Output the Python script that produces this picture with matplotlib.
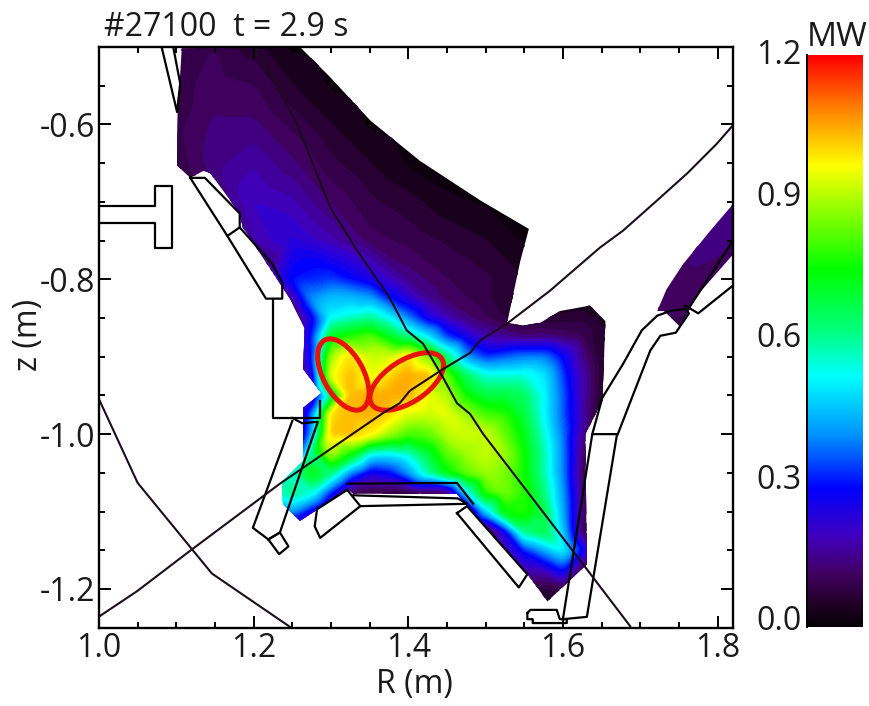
import numpy as np
import matplotlib
matplotlib.use('Agg')
import matplotlib.pyplot as plt
import matplotlib.tri as mtri
from matplotlib.colors import LinearSegmentedColormap
from matplotlib.patches import Ellipse, PathPatch
from matplotlib.path import Path
from matplotlib.ticker import MultipleLocator

plt.rcParams['font.family'] = ['Open Sans', 'DejaVu Sans']
plt.rcParams['text.color'] = '#1a1a1a'
plt.rcParams['xtick.labelcolor'] = '#1a1a1a'
plt.rcParams['ytick.labelcolor'] = '#1a1a1a'

# radiated power map, rows are z, columns are R
r_grid = [1.10, 1.15, 1.20, 1.25, 1.30, 1.35, 1.40, 1.45, 1.50, 1.55, 1.60, 1.65, 1.70, 1.75, 1.80, 1.85]
z_grid = [-0.50, -0.55, -0.60, -0.65, -0.70, -0.75, -0.80, -0.85, -0.90, -0.95, -1.00, -1.05, -1.10, -1.15, -1.20, -1.25]
power = [
    [.08, .10, .06, .02, .01, 0, 0, 0, 0, 0, 0, 0, 0, 0, 0, 0],
    [.09, .11, .10, .05, .02, .01, 0, 0, 0, 0, 0, 0, 0, 0, 0, 0],
    [.09, .13, .13, .09, .05, .02, .01, 0, 0, 0, 0, 0, 0, 0, 0, 0],
    [.08, .14, .17, .13, .08, .05, .02, .01, 0, 0, 0, 0, 0, 0, 0, 0],
    [.05, .11, .20, .18, .12, .08, .06, .03, .02, 0, 0, 0, 0, .10, .14, .10],
    [.02, .06, .17, .23, .18, .11, .09, .07, .05, .02, 0, 0, .06, .11, .14, .10],
    [0, .02, .06, .30, .33, .25, .14, .10, .08, .05, .03, .02, .09, .12, .10, .08],
    [0, 0, .02, .20, .50, .50, .37, .20, .10, .05, .07, .05, .09, .10, .08, .05],
    [0, 0, 0, .08, .88, .85, .90, .62, .33, .33, .33, .12, .02, .03, 0, 0],
    [0, 0, 0, .05, .98, 1.05, 1.06, .85, .68, .60, .42, .05, 0, 0, 0, 0],
    [0, 0, 0, .15, 1.00, .97, .88, .90, .88, .68, .32, .05, 0, 0, 0, 0],
    [0, 0, .50, .50, .65, .30, .45, .72, .82, .78, .48, .05, 0, 0, 0, 0],
    [0, 0, .30, .20, .10, .05, .05, .10, .40, .75, .58, .05, 0, 0, 0, 0],
    [0, 0, 0, 0, 0, 0, 0, 0, .05, .30, .52, .05, 0, 0, 0, 0],
    [0, 0, 0, 0, 0, 0, 0, 0, 0, .05, .08, .02, 0, 0, 0, 0],
    [0, 0, 0, 0, 0, 0, 0, 0, 0, 0, 0, 0, 0, 0, 0, 0],
]

# finer table for the hot region
r_fine = [1.25, 1.275, 1.30, 1.325, 1.35, 1.375, 1.40, 1.425, 1.45, 1.475, 1.50, 1.525, 1.55, 1.575, 1.60, 1.625, 1.65]
z_fine = [-0.825, -0.85, -0.875, -0.90, -0.925, -0.95, -0.975, -1.00, -1.025, -1.05, -1.075, -1.10, -1.125]
power_fine = [
    [.15, .40, .45, .45, .42, .30, .22, .15, .11, .10, .08, .06, .03, .02, .01, .01, .01],
    [.05, .25, .52, .56, .60, .52, .38, .25, .18, .13, .10, .07, .04, .05, .06, .07, .04],
    [.05, .30, .72, .78, .82, .72, .62, .50, .33, .25, .18, .15, .13, .14, .12, .10, .05],
    [.05, .28, .88, 1.00, .92, .93, 1.00, .85, .62, .40, .32, .35, .38, .38, .28, .14, .05],
    [.05, .20, .95, 1.03, .95, 1.00, 1.05, 1.04, .82, .65, .55, .55, .55, .50, .33, .17, .05],
    [.05, .15, .60, 1.03, 1.05, 1.05, 1.04, .95, .90, .75, .68, .68, .65, .52, .35, .17, .05],
    [.05, .35, 1.00, 1.03, 1.04, 1.00, .93, .92, .95, .88, .80, .78, .68, .52, .35, .17, .03],
    [.05, .40, 1.02, 1.03, .98, .88, .80, .82, .90, .93, .92, .83, .72, .55, .37, .15, 0],
    [.15, .60, .90, .75, .52, .50, .55, .68, .82, .88, .92, .88, .75, .58, .38, .12, 0],
    [.55, .75, .62, .38, .25, .28, .40, .58, .73, .83, .88, .85, .75, .58, .38, .10, 0],
    [.62, .55, .30, .10, .08, .08, .07, .08, .10, .50, .78, .85, .78, .62, .40, .12, 0],
    [.40, .25, .10, .05, .03, .02, .02, .01, 0, .05, .45, .75, .78, .68, .42, .12, 0],
    [.10, .05, 0, 0, 0, 0, 0, 0, 0, 0, .03, .25, .62, .68, .45, .10, 0],
]

# outline of the region that has data
main_r = [1.107, 1.260, 1.299, 1.351, 1.415, 1.493, 1.556, 1.545, 1.528, 1.548, 1.571, 1.596, 1.635, 1.655,
          1.651, 1.629, 1.631, 1.580, 1.558, 1.476, 1.463, 1.329, 1.321, 1.286, 1.260, 1.238, 1.237, 1.264,
          1.264, 1.288, 1.264, 1.266, 1.247, 1.186, 1.182, 1.144, 1.135, 1.118, 1.101, 1.102]
main_z = [-0.502, -0.500, -0.539, -0.595, -0.647, -0.698, -0.735, -0.776, -0.856, -0.860, -0.856, -0.841, -0.834, -0.854,
          -0.957, -1.000, -1.168, -1.216, -1.186, -1.093, -1.077, -1.077, -1.070, -1.095, -1.112, -1.090, -1.061, -1.035,
          -0.966, -0.947, -0.916, -0.863, -0.825, -0.733, -0.715, -0.663, -0.660, -0.669, -0.653, -0.584]
island_r = [1.722, 1.734, 1.755, 1.790, 1.820, 1.820, 1.770, 1.763, 1.751, 1.731]
island_z = [-0.841, -0.813, -0.781, -0.738, -0.703, -0.768, -0.825, -0.841, -0.861, -0.841]

# wall structures
wall_parts = [
    ([1.081, 1.101, 1.105, 1.096], [-0.500, -0.584, -0.547, -0.500]),
    ([1.000, 1.072, 1.072, 1.094, 1.094, 1.072, 1.072, 1.000], [-0.706, -0.706, -0.680, -0.680, -0.760, -0.760, -0.727, -0.727]),
    ([1.118, 1.137, 1.182, 1.182, 1.166, 1.118], [-0.669, -0.669, -0.715, -0.733, -0.744, -0.669]),
    ([1.166, 1.216, 1.237, 1.237, 1.224, 1.182], [-0.744, -0.825, -0.825, -0.804, -0.780, -0.733]),
    ([1.225, 1.225, 1.286, 1.286], [-0.825, -0.979, -0.979, -0.957]),
    ([1.250, 1.263, 1.283, 1.234, 1.219, 1.199, 1.250], [-0.979, -0.986, -0.984, -1.127, -1.136, -1.121, -0.983]),
    ([1.219, 1.234, 1.245, 1.233, 1.219], [-1.136, -1.127, -1.145, -1.155, -1.136]),
    ([1.321, 1.282, 1.279, 1.286, 1.338, 1.321], [-1.072, -1.097, -1.119, -1.134, -1.093, -1.072]),
    ([1.338, 1.476, 1.464, 1.329], [-1.093, -1.090, -1.083, -1.079]),
    ([1.321, 1.463, 1.484], [-1.064, -1.063, -1.090]),
    ([1.463, 1.476, 1.554, 1.543, 1.463], [-1.102, -1.093, -1.181, -1.198, -1.102]),
    ([1.554, 1.558, 1.592, 1.596, 1.605, 1.605, 1.561, 1.561, 1.554, 1.554], [-1.231, -1.227, -1.227, -1.239, -1.239, -1.244, -1.244, -1.239, -1.239, -1.231]),
    ([1.600, 1.631, 1.670, 1.638, 1.600], [-1.239, -1.236, -1.000, -1.000, -1.239]),
    ([1.638, 1.651, 1.678, 1.702, 1.722, 1.739, 1.758, 1.763, 1.746, 1.726, 1.713, 1.671], [-1.000, -0.953, -0.909, -0.866, -0.847, -0.841, -0.838, -0.844, -0.869, -0.873, -0.892, -1.000]),
    ([1.758, 1.775, 1.820], [-0.834, -0.844, -0.808]),
    ([1.765, 1.820], [-0.834, -0.750]),
]

# flux surface lines
sep1_r = [1.204, 1.221, 1.256, 1.299, 1.334, 1.376, 1.398, 1.419, 1.445, 1.463, 1.480, 1.497, 1.613, 1.687]
sep1_z = [-0.500, -0.534, -0.599, -0.707, -0.763, -0.824, -0.866, -0.883, -0.927, -0.960, -0.974, -1.000, -1.151, -1.248]
sep2_r = [1.001, 1.049, 1.120, 1.234, 1.367, 1.389, 1.402, 1.445, 1.480, 1.493, 1.528, 1.583, 1.648, 1.678, 1.722, 1.761, 1.799, 1.820]
sep2_z = [-1.235, -1.203, -1.149, -1.064, -0.973, -0.960, -0.944, -0.916, -0.895, -0.879, -0.857, -0.815, -0.759, -0.737, -0.698, -0.663, -0.625, -0.601]
sep3_r = [1.001, 1.050, 1.146, 1.250]
sep3_z = [-0.957, -1.063, -1.180, -1.251]

# red ellipses: centre R, centre z, width, height, angle
ellipses = [(1.316, -0.923, 0.101, 0.052, -61.5), (1.398, -0.932, 0.108, 0.054, 33)]

cmap_values = [0, .05, .11, .19, .29, .40, .525, .62, .75, .97, 1.09, 1.2]
cmap_colors = ['#050005', '#24002a', '#400060', '#4000c0', '#0000ff', '#0090ff', '#00ffff', '#00ff80',
               '#00ff00', '#ffff00', '#ff8000', '#ff0000']
cbar_ticks = [0.0, 0.3, 0.6, 0.9, 1.2]

cmap = LinearSegmentedColormap.from_list('rad', [(v / 1.2, c) for v, c in zip(cmap_values, cmap_colors)], N=256)

W, H = 870, 706
fig = plt.figure(figsize=(W / 100, H / 100), dpi=100)
ax = fig.add_axes([99 / W, 1 - 627.7 / H, 634 / W, 580.7 / H])

# merge both tables, the fine one wins inside its box
pr, pz, pv = [], [], []
for i, z in enumerate(z_grid):
    for j, r in enumerate(r_grid):
        if r_fine[0] <= r <= r_fine[-1] and z_fine[-1] <= z <= z_fine[0]:
            continue
        pr.append(r)
        pz.append(z)
        pv.append(power[i][j])
for i, z in enumerate(z_fine):
    for j, r in enumerate(r_fine):
        pr.append(r)
        pz.append(z)
        pv.append(power_fine[i][j])

tri = mtri.Triangulation(pr, pz)
interp = mtri.LinearTriInterpolator(tri, pv)
rr, zz = np.meshgrid(np.linspace(1.10, 1.85, 301), np.linspace(-1.25, -0.50, 301))
vv = np.ma.filled(interp(rr, zz), 0.0)
# light smoothing so the bands are not faceted
kernel = np.array([1, 4, 6, 4, 1]) / 16.0
for _ in range(2):
    vv = np.apply_along_axis(lambda a: np.convolve(a, kernel, mode='same'), 0, vv)
    vv = np.apply_along_axis(lambda a: np.convolve(a, kernel, mode='same'), 1, vv)

levels = np.concatenate([np.arange(0, 0.3, 0.025), np.arange(0.3, 1.205, 0.005)])
cs = ax.contourf(rr, zz, vv, levels=levels, cmap=cmap, extend='both')
cs.set_edgecolor('face')

verts = list(zip(main_r, main_z)) + [(main_r[0], main_z[0])] + list(zip(island_r, island_z)) + [(island_r[0], island_z[0])]
codes = [Path.MOVETO] + [Path.LINETO] * (len(main_r) - 1) + [Path.CLOSEPOLY]
codes += [Path.MOVETO] + [Path.LINETO] * (len(island_r) - 1) + [Path.CLOSEPOLY]
clip = PathPatch(Path(verts, codes), transform=ax.transData, fc='none', ec='none')
ax.add_patch(clip)
cs.set_clip_path(clip)

for lr, lz in wall_parts:
    ax.plot(lr, lz, color='black', lw=1.6)
for lr, lz in [(sep1_r, sep1_z), (sep2_r, sep2_z), (sep3_r, sep3_z)]:
    ax.plot(lr, lz, color='#1c0c1c', lw=1.5)
for cr, cz, w, h, ang in ellipses:
    ax.add_patch(Ellipse((cr, cz), w, h, angle=ang, fc='none', ec='#e8140c', lw=3.6))

ax.set_xlim(1.0, 1.82)
ax.set_ylim(-1.25, -0.5)
ax.xaxis.set_major_locator(MultipleLocator(0.2))
ax.xaxis.set_minor_locator(MultipleLocator(0.05))
ax.yaxis.set_minor_locator(MultipleLocator(0.05))
ax.set_yticks([-1.2, -1.0, -0.8, -0.6])
ax.set_yticklabels(['-1.2', '-1.0', '-0.8', '-0.6'])
ax.tick_params(which='major', direction='in', top=True, right=True, length=8.5, width=1.4, labelsize=23, pad=3)
ax.tick_params(which='minor', direction='in', top=True, right=True, length=4.5, width=1.4)
for s in ax.spines.values():
    s.set_linewidth(1.7)

fig.text(414 / W, 1 - 685 / H, 'R (m)', fontsize=23, ha='center', va='center')
fig.text(29 / W, 1 - 335 / H, 'z (m)', fontsize=23, ha='center', va='center', rotation=90)
fig.text(104 / W, 1 - 36 / H, '#27100  t = 2.9 s', fontsize=23, ha='left', va='baseline')

# colour bar
cax = fig.add_axes([807 / W, 1 - 626.5 / H, 56 / W, 571.5 / H])
cax.imshow(np.linspace(0, 1.2, 256).reshape(-1, 1), origin='lower', aspect='auto', cmap=cmap, vmin=0, vmax=1.2, extent=[0, 1, 0, 1.2])
cax.set_xticks([])
cax.set_yticks([])
for s in cax.spines.values():
    s.set_visible(False)
cax.spines['left'].set_visible(True)
cax.spines['left'].set_linewidth(1.4)
for t in cbar_ticks:
    # the labels sit a little tighter than the bar scale
    cax.text(-0.1, t * 0.99 + 0.01, '%.1f' % t, fontsize=23, ha='right', va='center',
             transform=cax.get_yaxis_transform())
fig.text(837 / W, 1 - 38 / H, 'MW', fontsize=24, ha='center', va='center')

fig.savefig('out.png', dpi=100)
